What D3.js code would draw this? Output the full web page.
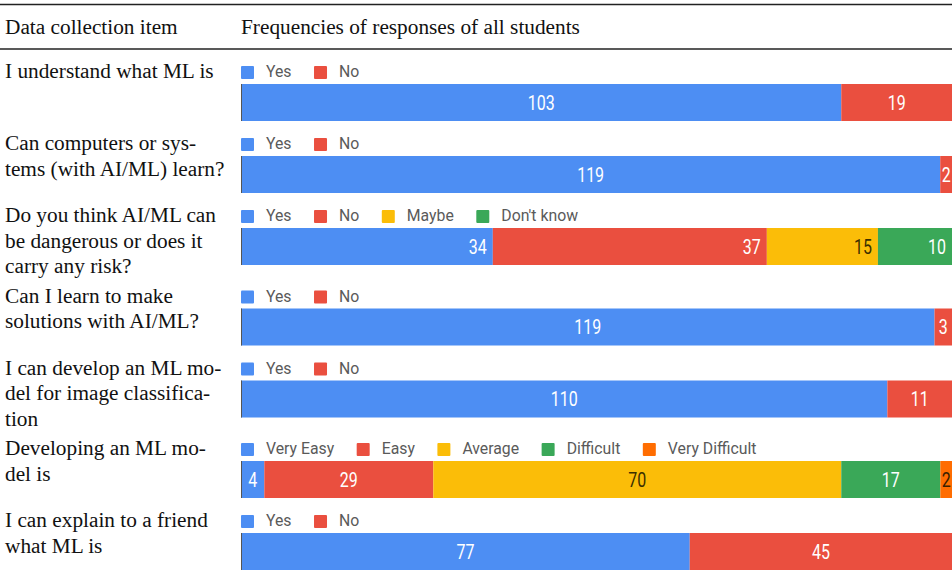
<!DOCTYPE html>
<html>
<head>
<meta charset="utf-8">
<script src="https://cdn.jsdelivr.net/npm/d3@7"></script>
<style>
  html, body { margin: 0; padding: 0; background: #fff; }
  svg { display: block; }
</style>
</head>
<body>
<svg id="chart" width="952" height="580"></svg>
<script>
// ---- data ----
const headers = ["Data collection item", "Frequencies of responses of all students"];
const itemLines = [
  ["I understand what ML is"],
  ["Can computers or sys-", "tems (with AI/ML) learn?"],
  ["Do you think AI/ML can", "be dangerous or does it", "carry any risk?"],
  ["Can I learn to make", "solutions with AI/ML?"],
  ["I can develop an ML mo-", "del for image classifica-", "tion"],
  ["Developing an ML mo-", "del is"],
  ["I can explain to a friend", "what ML is"]
];
const yesNo = ["Yes", "No"];
const responseSets = [
  yesNo,
  yesNo,
  ["Yes", "No", "Maybe", "Don't know"],
  yesNo,
  yesNo,
  ["Very Easy", "Easy", "Average", "Difficult", "Very Difficult"],
  yesNo
];
const counts = [
  [103, 19],
  [119, 2],
  [34, 37, 15, 10],
  [119, 3],
  [110, 11],
  [4, 29, 70, 17, 2],
  [77, 45]
];
const rightAlignedRows = [2];

// ---- layout ----
const W = 952;
const barX0 = 241, barX1 = 952;
const barH = 37;
const firstBarTop = 84;
const rowGap = 72, extraLineGap = 8.5;
const colors = ["#4d8ef3", "#ea4f3f", "#fbbd08", "#3aa858", "#ff6d01"];
const textOn = ["#ffffff", "#ffffff", "#3a2f00", "#ffffff", "#3a2000"];

const svg = d3.select("#chart");
const color = d3.scaleOrdinal().domain(d3.range(5)).range(colors);
const txtColor = d3.scaleOrdinal().domain(d3.range(5)).range(textOn);
const x = d3.scaleLinear().domain([0, 1]).range([barX0, barX1]);

// header rules
svg.append("line").attr("x1", 0).attr("x2", W).attr("y1", 4.5).attr("y2", 4.5)
  .attr("stroke", "#222").attr("stroke-width", 1.6);
svg.append("line").attr("x1", 0).attr("x2", W).attr("y1", 49).attr("y2", 49)
  .attr("stroke", "#222").attr("stroke-width", 1.3);

const serif = "'Liberation Serif', 'Times New Roman', serif";
const serifSize = 21.3;
svg.append("text").attr("x", 5).attr("y", 34).text(headers[0])
  .attr("font-family", serif).attr("font-size", serifSize).attr("fill", "#111");
svg.append("text").attr("x", 241).attr("y", 34).text(headers[1])
  .attr("font-family", serif).attr("font-size", serifSize).attr("fill", "#111");

// row tops
const tops = [];
let t = firstBarTop;
itemLines.forEach((lines, i) => {
  tops.push(t);
  t += rowGap + (lines.length > 2 ? extraLineGap : 0);
});

itemLines.forEach((lines, i) => {
  const top = tops[i];
  const g = svg.append("g");

  // item label
  lines.forEach((ln, j) => {
    g.append("text").attr("x", 5).attr("y", top - 6 + j * 25.5).text(ln)
      .attr("font-family", serif).attr("font-size", serifSize).attr("fill", "#111");
  });

  // legend
  let lx = barX0;
  responseSets[i].forEach((name, k) => {
    g.append("rect").attr("x", lx).attr("y", top - 18).attr("width", 13).attr("height", 13)
      .attr("rx", 1).attr("fill", color(k));
    const tx = g.append("text").attr("x", lx + 25).attr("y", top - 7).text(name)
      .attr("font-family", "Roboto, sans-serif").attr("font-size", 15.8).attr("fill", "#5a5a5a");
    lx = lx + 25 + tx.node().getComputedTextLength() + 22.5;
  });

  // stacked bar (normalised)
  const vals = counts[i];
  const total = d3.sum(vals);
  let cum = 0;
  const segs = vals.map((v, k) => {
    const s = { k, v, a: cum / total, b: (cum + v) / total };
    cum += v;
    return s;
  });
  g.selectAll("rect.seg").data(segs).join("rect").attr("class", "seg")
    .attr("x", d => x(d.a)).attr("width", d => x(d.b) - x(d.a))
    .attr("y", top).attr("height", barH).attr("fill", d => color(d.k));
  g.append("line").attr("x1", barX0 + 0.5).attr("x2", barX0 + 0.5)
    .attr("y1", top).attr("y2", top + barH).attr("stroke", "#555").attr("stroke-width", 1);

  const right = rightAlignedRows.includes(i);
  g.selectAll("text.val").data(segs).join("text").attr("class", "val")
    .attr("transform", d => {
      const px = right ? x(d.b) - 6 : (x(d.a) + x(d.b)) / 2;
      return `translate(${px},${top + barH / 2 + 7}) scale(0.82,1)`;
    })
    .attr("text-anchor", right ? "end" : "middle")
    .attr("font-family", "Roboto, sans-serif").attr("font-size", 19.5)
    .attr("fill", d => txtColor(d.k))
    .text(d => d.v);
});
</script>
</body>
</html>
